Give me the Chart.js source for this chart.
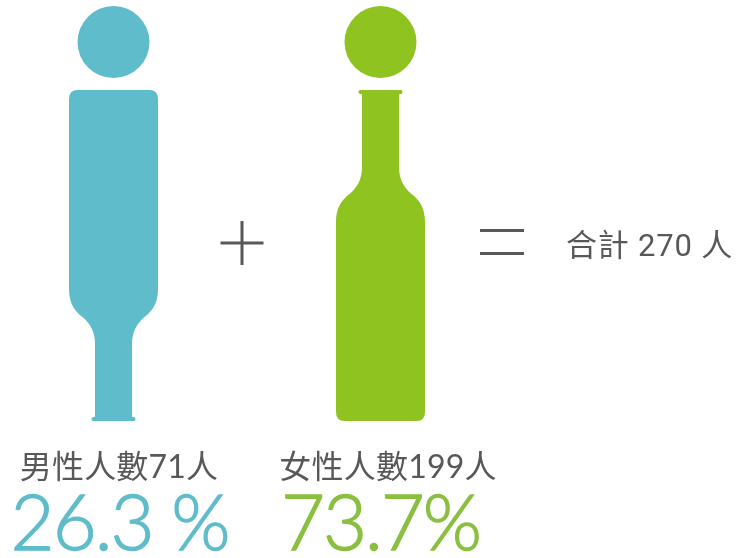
<!DOCTYPE html>
<html><head><meta charset="utf-8">
<style>html,body{margin:0;padding:0;background:#fff}#w{position:relative;width:737px;height:558px}</style>
<script src="https://cdn.jsdelivr.net/npm/chart.js@4"></script>
</head><body><div id="w"><canvas id="c" width="737" height="558"></canvas></div>
<script>
const categories = ['男性', '女性', '合計'];
const counts = [71, 199, 270];
const shares = ['26.3 %', '73.7%'];
const countLabels = ['男性人數71人', '女性人數199人', '合計 270 人'];
const bodyValues = [79.76, 79.76, null];
const headValues = [91.3, 91.3, null];
const colors = ['#5FBCCB', '#8FC31F'];
const shareColors = ['#5FBCCB', '#8ABF40'];
const INK = '#595757';
const FONT = 'Lato, "Noto Sans CJK TC", sans-serif';

function bottlePath(ctx, cx, top, w, h, flip) {
  const sx = w / 89, sy = h / 331;
  const P = (dx, dy) => [cx + dx * sx, top + (flip ? 331 - dy : dy) * sy];
  const side = [
    ['M', [0, 0]], ['L', [20.5, 0]], ['Q', [22, 0], [22, 2]], ['Q', [22, 4], [19, 4]],
    ['L', [18.5, 5]], ['L', [18.5, 77]],
    ['C', [18.5, 90], [24, 98], [31, 104]],
    ['C', [39, 110], [44.5, 118], [44.5, 132]],
    ['L', [44.5, 322]], ['Q', [44.5, 331], [36, 331]], ['L', [0, 331]]
  ];
  ctx.beginPath();
  const right = s => { const c = s[0]; const p = s.slice(1).map(q => P(q[0], q[1]));
    if (c === 'M') ctx.moveTo(...p[0]);
    if (c === 'L') ctx.lineTo(...p[0]);
    if (c === 'Q') ctx.quadraticCurveTo(...p[0], ...p[1]);
    if (c === 'C') ctx.bezierCurveTo(...p[0], ...p[1], ...p[2]); };
  side.forEach(right);
  for (let i = side.length - 1; i > 0; i--) {
    const end = side[i - 1][side[i - 1].length - 1];
    const s = side[i], c = s[0];
    const m = q => P(-q[0], q[1]);
    if (c === 'L') ctx.lineTo(...m(end));
    if (c === 'Q') ctx.quadraticCurveTo(...m(s[1]), ...m(end));
    if (c === 'C') ctx.bezierCurveTo(...m(s[2]), ...m(s[1]), ...m(end));
  }
  ctx.closePath();
}

const bottles = {
  id: 'bottles',
  beforeDatasetsDraw(chart) {
    chart.getDatasetMeta(0).data.forEach((el, i) => {
      el.draw = function (ctx) {
        if (bodyValues[i] === null) return;
        ctx.save();
        ctx.fillStyle = colors[i];
        bottlePath(ctx, el.x, el.y, el.width, el.base - el.y, i === 0);
        ctx.fill();
        ctx.restore();
      };
    });
  }
};

const annotate = {
  id: 'annotate',
  afterDraw(chart) {
    const ctx = chart.ctx, x = chart.scales.x, y = chart.scales.y;
    const base = y.getPixelForValue(0);
    ctx.save();
    ctx.textBaseline = 'alphabetic';
    ctx.textAlign = 'center';
    ctx.fillStyle = INK;
    ctx.font = '400 32px Lato, "Noto Sans CJK TC", sans-serif';
    ctx.letterSpacing = '0.2px';
    const lblDx = [5.5, 7.5];
    [0, 1].forEach(i => ctx.fillText(countLabels[i], x.getPixelForValue(i) + lblDx[i], base + 57));
    ctx.font = '400 31px Roboto, "Noto Sans CJK TC", sans-serif';
    ctx.letterSpacing = '0.8px';
    ctx.fillText(countLabels[2], x.getPixelForValue(2) + 2, base - 165);
    ctx.font = '300 76px ' + FONT;
    ctx.letterSpacing = '-2px';
    ctx.lineWidth = 1.3;
    const pctDx = [6, 0];
    [0, 1].forEach(i => { ctx.fillStyle = ctx.strokeStyle = shareColors[i];
      const tx = x.getPixelForValue(i) + pctDx[i], ty = base + 129;
      ctx.fillText(shares[i], tx, ty); ctx.strokeText(shares[i], tx, ty); });
    ctx.letterSpacing = '0px';
    ctx.strokeStyle = INK; ctx.lineWidth = 3;
    const x0 = x.getPixelForValue(0), x1 = x.getPixelForValue(1), x2 = x.getPixelForValue(2);
    const px = (x0 + x1) / 2 - 5, py = base - 178;
    ctx.beginPath();
    ctx.moveTo(px - 21.5, py); ctx.lineTo(px + 21.5, py);
    ctx.moveTo(px, py - 22); ctx.lineTo(px, py + 22);
    const ex = (x1 + x2) / 2 - 12;
    ctx.moveTo(ex - 22, base - 190.5); ctx.lineTo(ex + 22, base - 190.5);
    ctx.moveTo(ex - 22, base - 167.5); ctx.lineTo(ex + 22, base - 167.5);
    ctx.stroke();
    ctx.restore();
  }
};

new Chart(document.getElementById('c'), {
  data: {
    labels: categories,
    datasets: [
      { type: 'bar', label: '人數', data: bodyValues, backgroundColor: colors, barThickness: 89, clip: false, order: 2 },
      { type: 'line', label: '頭', data: headValues, showLine: false, pointStyle: 'circle', pointRadius: 36,
        pointBackgroundColor: colors, pointBorderWidth: 0, clip: false, order: 1 }
    ]
  },
  options: {
    responsive: false, animation: false,
    layout: { autoPadding: false, padding: { left: 113.5, right: 89.5, top: 6, bottom: 137 } },
    plugins: { legend: { display: false }, title: { display: false }, tooltip: { enabled: false } },
    events: [],
    scales: {
      x: { type: 'category', offset: false, display: false },
      y: { type: 'linear', min: 0, max: 100, display: false }
    }
  },
  plugins: [bottles, annotate]
});
</script></body></html>
